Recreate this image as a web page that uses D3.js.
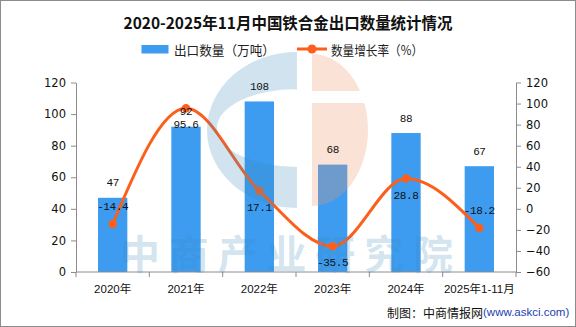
<!DOCTYPE html>
<html>
<head>
<meta charset="utf-8">
<script src="https://cdn.jsdelivr.net/npm/d3@7/dist/d3.min.js"></script>
<style>
  html, body { margin: 0; padding: 0; background: #fff; }
  svg { display: block; }
</style>
</head>
<body>
<svg id="chart" width="576" height="327"></svg>
<script>
// Ferro-alloy exports, 2020 – Jan-Nov 2025
const years = ["2020年", "2021年", "2022年", "2023年", "2024年", "2025年1-11月"];
const exportVolume = [47, 92, 108, 68, 88, 67];          // 万吨
const growthRate = [-14.4, 95.6, 17.1, -35.5, 28.8, -18.2]; // %
const rateLabelSide = ["above", "below", "below", "below", "below", "above"];
const leftTicks = [0, 20, 40, 60, 80, 100, 120];
const rightTicks = [-60, -40, -20, 0, 20, 40, 60, 80, 100, 120];

const W = 576, H = 327;
const plot = { left: 76, right: 516, top: 82.5, bottom: 272 };
const barColor = "#3d9cf0";
const lineColor = "#fc5f1c";
const axisColor = "#8c8c8c";
const numFont = "'Liberation Mono', 'DejaVu Sans Mono', monospace";
const tickFont = "'DejaVu Sans', 'Noto Sans CJK SC', sans-serif";
const cjkFont = "'Noto Sans CJK SC', 'Liberation Sans', sans-serif";

const svg = d3.select("#chart");

const x = d3.scaleBand().domain(years).range([plot.left, plot.right]).padding(0);
const yL = d3.scaleLinear().domain([0, 120]).range([plot.bottom, plot.top]);
const yR = d3.scaleLinear().domain([-60, 120]).range([plot.bottom, plot.top]);
const barW = x.bandwidth() * 0.4;
const cx = d => x(d) + x.bandwidth() / 2;

// Title
svg.append("text")
  .attr("x", 288).attr("y", 22)
  .attr("text-anchor", "middle").attr("dominant-baseline", "central")
  .attr("font-family", cjkFont).attr("font-weight", "bold").attr("font-size", 16)
  .attr("textLength", 329).attr("lengthAdjust", "spacingAndGlyphs")
  .attr("fill", "#111")
  .text("2020-2025年11月中国铁合金出口数量统计情况");

// Legend
const lg = svg.append("g");
lg.append("rect").attr("x", 141.5).attr("y", 45).attr("width", 27).attr("height", 8.5).attr("fill", barColor);
lg.append("text").attr("x", 174).attr("y", 49.5).attr("dominant-baseline", "central")
  .attr("font-family", cjkFont).attr("font-size", 13).attr("fill", "#222")
  .attr("textLength", 101).attr("lengthAdjust", "spacingAndGlyphs")
  .text("出口数量（万吨）");
lg.append("line").attr("x1", 297).attr("x2", 327).attr("y1", 49).attr("y2", 49)
  .attr("stroke", lineColor).attr("stroke-width", 3);
lg.append("circle").attr("cx", 312).attr("cy", 49).attr("r", 4.5).attr("fill", lineColor);
lg.append("text").attr("x", 331).attr("y", 49.5).attr("dominant-baseline", "central")
  .attr("font-family", cjkFont).attr("font-size", 13).attr("fill", "#222")
  .attr("textLength", 92).attr("lengthAdjust", "spacingAndGlyphs")
  .text("数量增长率（%）");

// Bars
svg.append("g").selectAll("rect").data(years).join("rect")
  .attr("x", (d) => cx(d) - barW / 2)
  .attr("y", (d, i) => yL(exportVolume[i]))
  .attr("width", barW)
  .attr("height", (d, i) => yL(0) - yL(exportVolume[i]))
  .attr("fill", barColor);

// Growth-rate line
const pts = years.map((d, i) => [cx(d), yR(growthRate[i])]);
svg.append("path")
  .attr("d", d3.line().curve(d3.curveMonotoneX)(pts))
  .attr("fill", "none").attr("stroke", lineColor).attr("stroke-width", 3);
svg.append("g").selectAll("circle").data(pts).join("circle")
  .attr("cx", p => p[0]).attr("cy", p => p[1]).attr("r", 4.2).attr("fill", lineColor);

// Axes
function styleAxis(g) {
  g.selectAll(".domain").attr("stroke", axisColor);
  g.selectAll(".tick line").attr("stroke", axisColor);
  g.selectAll(".tick text").attr("fill", "#111").attr("font-family", tickFont).attr("font-size", 11.5);
}
svg.append("g").attr("transform", `translate(${plot.left},0)`)
  .call(d3.axisLeft(yL).tickValues(leftTicks).tickSize(5).tickSizeOuter(0).tickPadding(5))
  .call(styleAxis);
svg.append("g").attr("transform", `translate(${plot.right},0)`)
  .call(d3.axisRight(yR).tickValues(rightTicks).tickSize(5).tickSizeOuter(0).tickPadding(5))
  .call(styleAxis);

// Category axis with ticks on the band boundaries
const xg = svg.append("g").attr("transform", `translate(0,${plot.bottom})`);
xg.append("line").attr("x1", plot.left).attr("x2", plot.right).attr("stroke", axisColor);
xg.selectAll("line.tk").data(years.concat([null])).join("line")
  .attr("class", "tk")
  .attr("x1", (d, i) => plot.left + i * x.bandwidth())
  .attr("x2", (d, i) => plot.left + i * x.bandwidth())
  .attr("y1", 0).attr("y2", 5).attr("stroke", axisColor);
xg.selectAll("text").data(years).join("text")
  .attr("x", d => cx(d)).attr("y", 16.5)
  .attr("text-anchor", "middle").attr("dominant-baseline", "central")
  .attr("font-family", "'Liberation Sans', 'Noto Sans CJK SC', sans-serif").attr("font-size", 11.5)
  .attr("fill", "#111")
  .text(d => d);

// Brand mark drawn translucently across the plot
const mark = svg.append("g").attr("pointer-events", "none");
const blueTint = "rgba(60,140,190,0.24)";
const peachTint = "rgba(240,150,110,0.28)";
mark.append("path")
  .attr("fill-rule", "evenodd").attr("fill", blueTint)
  .attr("d", "M297,52 A90,78 0 0,0 297,208 Z M297,89 A80,39 0 0,0 297,167 Z");
mark.append("clipPath").attr("id", "peachCut")
  .append("path").attr("d", "M300,40 H380 V91 H300 Z M300,103 H380 V220 H300 Z");
mark.append("path")
  .attr("clip-path", "url(#peachCut)")
  .attr("fill", peachTint)
  .attr("d", "M312,54 A56,76 0 0,1 312,206 Z");
mark.append("text")
  .attr("x", 120).attr("y", 252)
  .attr("dominant-baseline", "central")
  .attr("font-family", cjkFont).attr("font-weight", "bold").attr("font-size", 40)
  .attr("textLength", 333).attr("lengthAdjust", "spacing")
  .attr("fill", "rgba(60,140,190,0.24)")
  .text("中商产业研究院");

// Value labels
svg.append("g").selectAll("text").data(years).join("text")
  .attr("x", d => cx(d)).attr("y", (d, i) => yL(exportVolume[i]) - 14.5)
  .attr("text-anchor", "middle").attr("dominant-baseline", "central")
  .attr("font-family", numFont).attr("font-size", 11).attr("letter-spacing", -0.4)
  .attr("fill", "#111")
  .text((d, i) => exportVolume[i]);
svg.append("g").selectAll("text").data(years).join("text")
  .attr("x", d => cx(d))
  .attr("y", (d, i) => yR(growthRate[i]) + (rateLabelSide[i] === "above" ? -17 : 17))
  .attr("text-anchor", "middle").attr("dominant-baseline", "central")
  .attr("font-family", numFont).attr("font-size", 11).attr("letter-spacing", -0.4)
  .attr("fill", "#111")
  .text((d, i) => growthRate[i].toFixed(1));

// Source note
const src = svg.append("text").attr("x", 387).attr("y", 312).attr("dominant-baseline", "central");
src.append("tspan").attr("font-family", cjkFont).attr("font-size", 12).attr("fill", "#111").text("制图：中商情报网");
src.append("tspan").attr("font-family", "'Liberation Sans', sans-serif").attr("font-size", 11.5).attr("fill", "#2440b0").text("(www.askci.com)");

// Frame
svg.append("rect").attr("x", 0.5).attr("y", 0.5).attr("width", W - 1).attr("height", H - 1)
  .attr("fill", "none").attr("stroke", "#8c8c8c");
</script>
</body>
</html>
